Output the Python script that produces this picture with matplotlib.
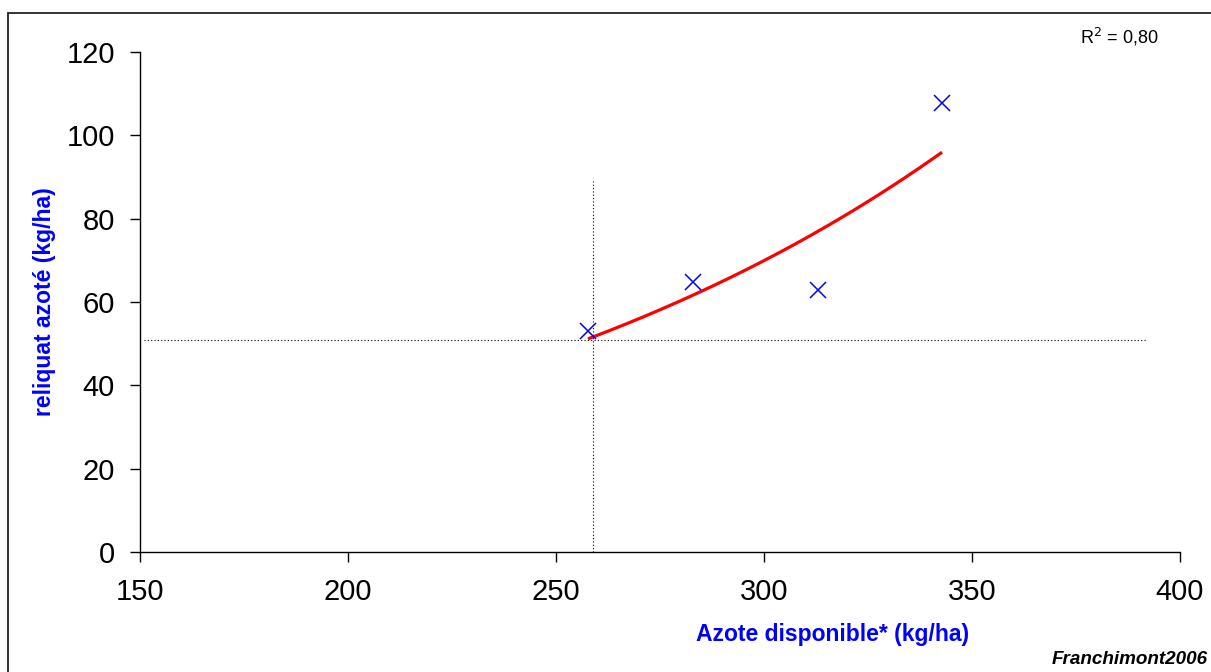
import numpy as np
import matplotlib
matplotlib.use("Agg")
import matplotlib.pyplot as plt
from matplotlib.patches import Rectangle

plt.rcParams["font.family"] = ["Liberation Sans", "DejaVu Sans"]

# measured points: available N vs residual N
azote_dispo = [257.7, 282.9, 313.0, 342.8]
reliquat = [53.0, 64.8, 62.9, 107.8]

# reference lines (threshold)
seuil_x = 259.0
seuil_x_top = 89.0
seuil_y = 51.0
seuil_y_span = (151.0, 392.0)

x_ticks = [150, 200, 250, 300, 350, 400]
y_ticks = [0, 20, 40, 60, 80, 100, 120]
r2_label = "R$^2$ = 0,80"

# exponential trendline (Excel style): y = a * exp(b x)
b, ln_a = np.polyfit(azote_dispo, np.log(reliquat), 1)
xs = np.linspace(min(azote_dispo), max(azote_dispo), 200)
ys = np.exp(ln_a) * np.exp(b * xs)

fig = plt.figure(figsize=(12.11, 6.72), dpi=100)
ax = fig.add_axes([140 / 1211, 1 - 552 / 672, 1040 / 1211, 500 / 672])

ax.plot([seuil_x, seuil_x], [0, seuil_x_top], color="black", lw=0.8, ls=(0, (1, 2)))
ax.plot(seuil_y_span, [seuil_y, seuil_y], color="black", lw=0.8, ls=(0, (1, 2)))
ax.plot(xs, ys, color="#ff0000", lw=2.3, solid_capstyle="butt")
ax.plot(azote_dispo, reliquat, ls="none", marker="x", ms=12, mew=1.1, color="#0000ff")

ax.set_xlim(150, 400)
ax.set_ylim(0, 120)
ax.set_xticks(x_ticks)
ax.set_yticks(y_ticks)
ax.tick_params(labelsize=21, length=7, width=1, direction="out")
ax.tick_params(axis="x", pad=12)
ax.tick_params(axis="y", pad=11)
for s in ["top", "right"]:
    ax.spines[s].set_visible(False)
for s in ["left", "bottom"]:
    ax.spines[s].set_linewidth(1)

fig.text(45 / 1211, 1 - 302 / 672, "reliquat azoté (kg/ha)", rotation=90,
         ha="center", va="center", color="#0000ff", fontweight="bold", fontsize=16.5)
fig.text(833 / 1211, 1 - 635 / 672, "Azote disponible* (kg/ha)",
         ha="center", va="center", color="#0000ff", fontweight="bold", fontsize=16.5)
fig.text(1119 / 1211, 1 - 37 / 672, r2_label, ha="center", va="center", fontsize=13)
fig.text(1208 / 1211, 1 - 659 / 672, "Franchimont2006", ha="right", va="center",
         fontsize=13.6, fontweight="bold", fontstyle="italic")

# frame around the whole chart
fig.patches.append(Rectangle((8 / 1211, -0.05), 1.1, 1 - 13 / 672 + 0.05,
                             transform=fig.transFigure, fill=False,
                             edgecolor="#222222", lw=1.3))

fig.savefig("out.png", dpi=100)
